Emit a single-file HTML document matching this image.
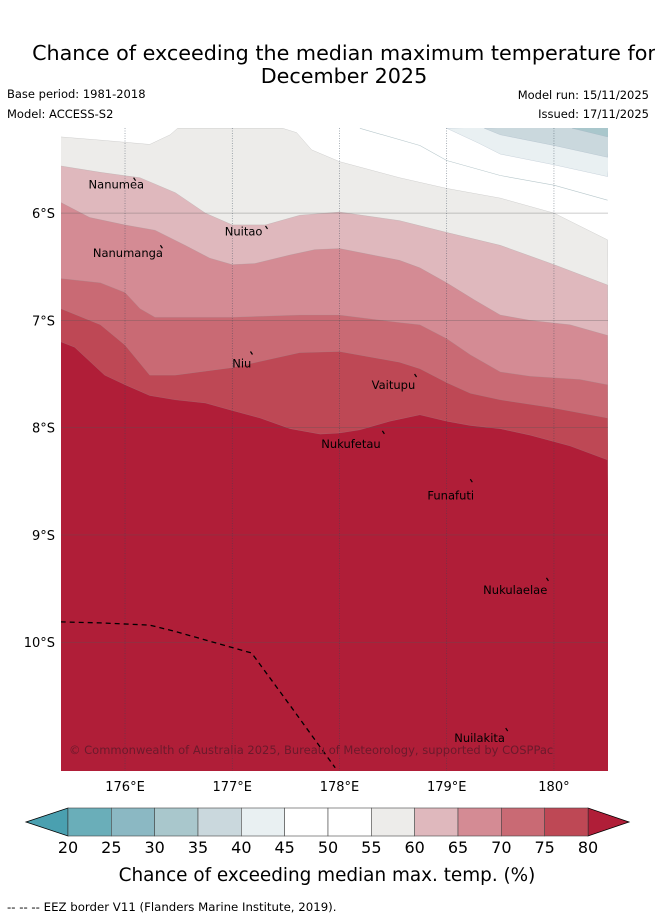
<!DOCTYPE html>
<html><head><meta charset="utf-8">
<style>
body{margin:0;background:#fff;width:655px;height:919px;overflow:hidden;font-family:"DejaVu Sans","Liberation Sans",sans-serif;}
svg{position:absolute;left:0;top:0}
</style></head>
<body>
<svg id="chart" width="655" height="919" xmlns="http://www.w3.org/2000/svg" font-family="DejaVu Sans, Liberation Sans, sans-serif">
<text x="344" y="60" font-size="20.7" text-anchor="middle">Chance of exceeding the median maximum temperature for</text>
<text x="344" y="83" font-size="20.7" text-anchor="middle">December 2025</text>
<text x="7" y="98" font-size="11.5">Base period: 1981-2018</text>
<text x="7" y="118" font-size="11.5">Model: ACCESS-S2</text>
<text x="649" y="99" font-size="11.5" text-anchor="end">Model run: 15/11/2025</text>
<text x="649" y="118" font-size="11.5" text-anchor="end">Issued: 17/11/2025</text>
<defs><clipPath id="mapclip"><rect x="61" y="128" width="547" height="643"/></clipPath></defs>
<g id="map" clip-path="url(#mapclip)"></g>
<g id="axes"></g>
<g id="cbar"></g>
<text x="327" y="881" font-size="18.4" text-anchor="middle">Chance of exceeding median max. temp. (%)</text>
<text x="7" y="911" font-size="11.75">--  --  -- EEZ border V11 (Flanders Marine Institute, 2019).</text>
</svg>
<script>
const lonMin=175.403, lonMax=180.504, latTop=5.207, latBot=11.2;
const X0=61,X1=608,Y0=128,Y1=771;
const lonTicks=[176,177,178,179,180];
const lonTickLabels=["176°E","177°E","178°E","179°E","180°"];
const latTicks=[6,7,8,9,10];
const latTickLabels=["6°S","7°S","8°S","9°S","10°S"];
const lvl55Lon=[175.40,175.77,176.23,176.42,176.49,177.47,177.60,177.74,178.0,178.56,179.0,179.5,180.0,180.5];
const lvl55Lat=[5.29,5.32,5.36,5.27,5.21,5.21,5.25,5.41,5.52,5.67,5.77,5.86,6.0,6.25];
const lvl60Lon=[175.40,175.77,176.14,176.47,176.75,177.0,177.31,177.63,178.0,178.56,179.0,179.5,180.0,180.5];
const lvl60Lat=[5.56,5.62,5.67,5.81,6.0,6.11,6.11,6.02,5.99,6.07,6.18,6.30,6.48,6.67];
const lvl65Lon=[175.40,175.67,176.0,176.28,176.56,176.79,177.0,177.21,177.54,177.77,178.0,178.56,178.75,179.0,179.26,179.5,179.78,180.15,180.5];
const lvl65Lat=[5.90,6.04,6.11,6.16,6.30,6.42,6.48,6.47,6.39,6.34,6.33,6.44,6.51,6.65,6.81,6.95,7.0,7.04,7.14];
const lvl70Lon=[175.40,175.77,176.0,176.14,176.28,177.0,177.63,178.0,178.56,178.75,179.0,179.22,179.5,179.78,180.24,180.5];
const lvl70Lat=[6.61,6.65,6.74,6.89,6.97,6.97,6.95,6.95,7.02,7.04,7.17,7.32,7.48,7.52,7.55,7.60];
const lvl75Lon=[175.40,175.77,176.0,176.23,176.47,177.0,177.63,178.0,178.56,178.75,179.0,179.22,179.5,179.96,180.5];
const lvl75Lat=[6.89,7.04,7.23,7.51,7.51,7.44,7.30,7.29,7.39,7.45,7.58,7.68,7.74,7.81,7.91];
const lvl80Lon=[175.40,175.53,175.81,176.0,176.23,176.47,176.75,177.0,177.26,177.54,177.82,178.0,178.19,178.47,178.75,179.0,179.22,179.5,179.78,180.15,180.5];
const lvl80Lat=[7.20,7.25,7.51,7.60,7.70,7.74,7.77,7.84,7.91,8.01,8.06,8.05,8.02,7.94,7.88,7.94,7.98,8.01,8.07,8.17,8.30];
const lvl45Lon=[178.19,178.75,179.0,179.5,180.0,180.5];
const lvl45Lat=[5.21,5.37,5.51,5.65,5.74,5.88];
const lvl40Lon=[179.0,179.3,179.5,180.0,180.5];
const lvl40Lat=[5.21,5.35,5.45,5.55,5.66];
const lvl35Lon=[179.35,179.5,180.0,180.5];
const lvl35Lat=[5.21,5.27,5.37,5.48];
const lvl30Lon=[180.17,180.5];
const lvl30Lat=[5.21,5.29];
const eezLon=[175.40,175.77,176.23,176.47,176.79,177.18,177.54,177.96];
const eezLat=[9.81,9.82,9.84,9.90,9.99,10.10,10.59,11.17];
const islands=["Nanumea","Nanumanga","Nuitao","Niu","Vaitupu","Nukufetau","Funafuti","Nukulaelae","Nuilakita"];
const islandLon=[176.08,176.33,177.31,177.17,178.7,178.4,179.22,179.93,179.55];
const islandLat=[5.67,6.30,6.12,7.29,7.50,8.03,8.48,9.40,10.80];
const labelLon=[175.66,175.70,176.93,177.0,178.30,177.83,178.82,179.34,179.07];
const labelLat=[5.77,6.41,6.21,7.44,7.64,8.19,8.67,9.55,10.93];
const cbLevels=[20,25,30,35,40,45,50,55,60,65,70,75,80];
const cbColors=["#6aaeb9","#8bb8c3","#a9c7cc","#cad8dd","#e9f0f2","#ffffff","#ffffff","#edecea","#dfb8bd","#d48b94","#c96a74","#be4855"];
const NS="http://www.w3.org/2000/svg";
const sx=l=>X0+(l-lonMin)/(lonMax-lonMin)*(X1-X0);
const sy=l=>Y0+(l-latTop)/(latBot-latTop)*(Y1-Y0);
function el(t,a,p){const e=document.createElementNS(NS,t);for(const k in a)e.setAttribute(k,a[k]);p.appendChild(e);return e;}
const map=document.getElementById('map');
let r=el('rect',{x:X0,y:Y0,width:X1-X0,height:Y1-Y0,fill:'#fff'},map);


function pts(lo,la){return lo.map((v,i)=>sx(v).toFixed(1)+','+sy(la[i]).toFixed(1)).join(' ');}
function below(lo,la,col,name){
  const p=el('polygon',{points:pts(lo,la)+` ${X1+5},${Y1+5} ${X0-5},${Y1+5}`,fill:col,stroke:'#999',"stroke-width":0.4,"stroke-opacity":0.5},map);
  
  
}
function above(lo,la,col,name){
  const p=el('polygon',{points:pts(lo,la)+` ${X1+5},${Y0-5}`,fill:col,stroke:'#9ab',"stroke-width":0.4,"stroke-opacity":0.6},map);
  
  
}
below(lvl55Lon,lvl55Lat,'#edecea','region-55-60');
below(lvl60Lon,lvl60Lat,'#dfb8bd','region-60-65');
below(lvl65Lon,lvl65Lat,'#d48b94','region-65-70');
below(lvl70Lon,lvl70Lat,'#c96a74','region-70-75');
below(lvl75Lon,lvl75Lat,'#be4855','region-75-80');
below(lvl80Lon,lvl80Lat,'#b01e38','region-above-80');
let c45=el('polyline',{points:pts(lvl45Lon,lvl45Lat),fill:'none',stroke:'#b8c8cc',"stroke-width":0.6},map);


above(lvl40Lon,lvl40Lat,'#e9f0f2','region-40-45');
above(lvl35Lon,lvl35Lat,'#cad8dd','region-35-40');
above(lvl30Lon,lvl30Lat,'#a9c7cc','region-30-35');
lonTicks.forEach((v,i)=>{
  const g=el('line',{x1:sx(v),x2:sx(v),y1:Y0,y2:Y1,stroke:'#345',"stroke-width":0.6,"stroke-dasharray":"1,1.5","stroke-opacity":0.7},map);
  
  
});
latTicks.forEach((v,i)=>{
  const g=el('line',{x1:X0,x2:X1,y1:sy(v),y2:sy(v),stroke:'#555',"stroke-width":0.5,"stroke-opacity":0.6},map);
  
  
});
const eez=el('polyline',{points:pts(eezLon,eezLat),fill:'none',stroke:'#000',"stroke-width":1.3,"stroke-dasharray":"5,4"},map);


islands.forEach((n,i)=>{
  const m=el('line',{x1:sx(islandLon[i]),y1:sy(islandLat[i]),x2:sx(islandLon[i])+2,y2:sy(islandLat[i])+3,stroke:'#000',"stroke-width":1.2},map);
  
  
  const t=el('text',{x:sx(labelLon[i]),y:sy(labelLat[i]),"font-size":11.5,fill:'#000'},map);
  t.textContent=n;
  
  
});
const cp=el('text',{x:69,y:754,"font-size":11.5,fill:'#6b1a2c'},map);
cp.textContent="© Commonwealth of Australia 2025, Bureau of Meteorology, supported by COSPPac";


const axes=document.getElementById('axes');
lonTicks.forEach((v,i)=>{
  const t=el('text',{x:sx(v),y:791,"font-size":13,"text-anchor":"middle"},axes);
  t.textContent=lonTickLabels[i];
  
  
});
latTicks.forEach((v,i)=>{
  const t=el('text',{x:55,y:sy(v)+5,"font-size":13,"text-anchor":"end"},axes);
  t.textContent=latTickLabels[i];
  
  
});
const cb=document.getElementById('cbar');
const cx=v=>68+(v-20)/60*520, cy0=808, cy1=836;
let tl=el('polygon',{points:`${cx(20)},${cy0} ${cx(20)},${cy1} 26,822`,fill:'#4aa0b0',stroke:'#000',"stroke-width":0.8},cb);


let tr=el('polygon',{points:`${cx(80)},${cy0} ${cx(80)},${cy1} 629,822`,fill:'#b01e38',stroke:'#000',"stroke-width":0.8},cb);


cbColors.forEach((c,i)=>{
  const b=el('rect',{x:cx(cbLevels[i]),y:cy0,width:cx(cbLevels[i+1])-cx(cbLevels[i]),height:cy1-cy0,fill:c,stroke:'#444',"stroke-width":0.6},cb);
  
  
});
cbLevels.forEach(v=>{
  const t=el('text',{x:cx(v),y:853,"font-size":16,"text-anchor":"middle"},cb);
  t.textContent=v;
  
  
});
</script>
</body></html>
